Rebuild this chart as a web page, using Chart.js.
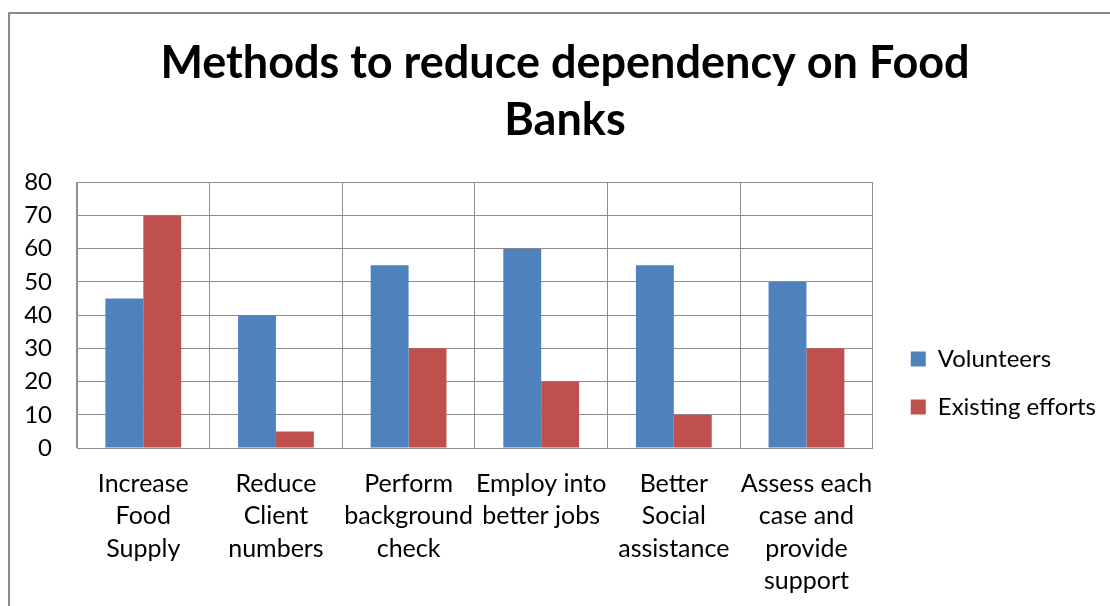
<!DOCTYPE html>
<html>
<head>
<meta charset="utf-8">
<style>
  html, body { margin: 0; padding: 0; background: #fff; }
  #wrap { width: 1110px; height: 606px; position: relative; }
</style>
<script src="https://cdn.jsdelivr.net/npm/chart.js@4/dist/chart.umd.min.js"></script>
</head>
<body>
<div id="wrap"><canvas id="canvas" width="1110" height="606"></canvas></div>
<script>
// values
var categories = [
    ['Increase', 'Food', 'Supply'],
    ['Reduce', 'Client', 'numbers'],
    ['Perform', 'background', 'check'],
    ['Employ into', 'better jobs'],
    ['Better', 'Social', 'assistance'],
    ['Assess each', 'case and', 'provide', 'support']
];
var volunteers = [45, 40, 55, 60, 55, 50];
var existingEfforts = [70, 5, 30, 20, 10, 30];
var yTicks = [0, 10, 20, 30, 40, 50, 60, 70, 80];

var gridColor = '#8e8e8e';
var textFont = 'Lato, "Open Sans", sans-serif';

// outer frame of the chart (left + top edges)
var framePlugin = {
    id: 'frame',
    beforeDraw: function(chart) {
        var ctx = chart.ctx;
        ctx.save();
        ctx.strokeStyle = '#8c8c8c';
        ctx.lineWidth = 2;
        ctx.beginPath();
        ctx.moveTo(9, 606);
        ctx.lineTo(9, 13);
        ctx.lineTo(1110, 13);
        ctx.stroke();
        ctx.restore();
    }
};

var ctx = document.getElementById('canvas').getContext('2d');
var chart = new Chart(ctx, {
    type: 'bar',
    data: {
        labels: categories,
        datasets: [{
            label: 'Volunteers',
            data: volunteers,
            backgroundColor: '#4F81BD',
            borderWidth: 0
        }, {
            label: 'Existing efforts',
            data: existingEfforts,
            backgroundColor: '#C0504D',
            borderWidth: 0
        }]
    },
    options: {
        responsive: false,
        animation: false,
        devicePixelRatio: 1,
        layout: {
            padding: { left: 24, right: 4, top: 0, bottom: 0 }
        },
        datasets: {
            bar: {
                categoryPercentage: 2 / 3.5,
                barPercentage: 1
            }
        },
        plugins: {
            title: {
                display: true,
                text: ['Methods to reduce dependency on Food', 'Banks'],
                color: '#000',
                font: { family: textFont, size: 45, weight: 'bold', lineHeight: 1.27 },
                padding: { top: 35, bottom: 33 }
            },
            legend: {
                position: 'right',
                align: 'center',
                labels: {
                    color: '#000',
                    font: { family: textFont, size: 24 },
                    boxWidth: 15,
                    boxHeight: 15,
                    padding: 24
                }
            },
            tooltip: { enabled: false }
        },
        scales: {
            x: {
                grid: {
                    color: gridColor,
                    lineWidth: 1,
                    drawTicks: false,
                    offset: true
                },
                border: { color: gridColor, width: 1 },
                ticks: {
                    color: '#000',
                    font: { family: textFont, size: 25, lineHeight: 1.29 },
                    padding: 20,
                    maxRotation: 0,
                    autoSkip: false
                },
                afterFit: function(scale) { scale.height = 158; }
            },
            y: {
                min: 0,
                max: 80,
                afterBuildTicks: function(scale) {
                    scale.ticks = yTicks.map(function(v) { return { value: v }; });
                },
                grid: {
                    color: gridColor,
                    lineWidth: 1,
                    drawTicks: false
                },
                border: { color: gridColor, width: 1 },
                ticks: {
                    color: '#000',
                    font: { family: textFont, size: 24 },
                    padding: 25
                },
                afterFit: function(scale) { scale.width = 53; }
            }
        }
    },
    plugins: [framePlugin]
});

// legend sits a bit further from the plot and lower, like the original
var legend = chart.legend;
var baseFit = legend.fit;
legend.fit = function() {
    baseFit.call(this);
    this.width += 14;
};
var baseDraw = legend.draw;
legend.draw = function() {
    this.ctx.save();
    this.ctx.translate(14, 80);
    baseDraw.call(this);
    this.ctx.restore();
};
chart.update();
</script>
</body>
</html>
